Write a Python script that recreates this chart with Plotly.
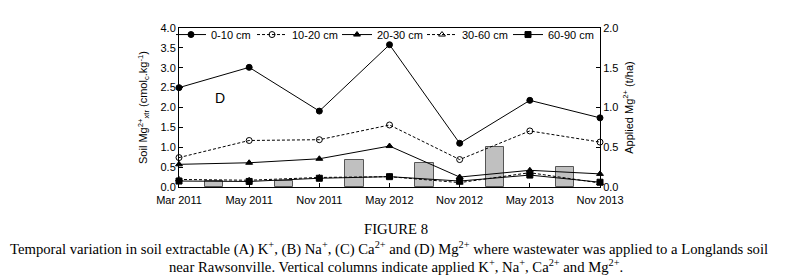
import plotly.graph_objects as go

categories = ["Mar 2011", "May 2011", "Nov 2011", "May 2012", "Nov 2012", "May 2013", "Nov 2013"]
d0_10 = [2.50, 3.01, 1.91, 3.58, 1.10, 2.18, 1.74]
d10_20 = [0.74, 1.17, 1.19, 1.56, 0.69, 1.41, 1.13]
d20_30 = [0.57, 0.61, 0.71, 1.03, 0.25, 0.42, 0.33]
d30_60 = [0.19, 0.17, 0.24, 0.26, 0.11, 0.36, 0.10]
d60_90 = [0.15, 0.14, 0.22, 0.26, 0.15, 0.30, 0.12]
applied = [0.08, 0.08, 0.34, 0.30, 0.50, 0.25]

xi = list(range(len(categories)))
xbar = [i + 0.5 for i in range(len(applied))]

# figure geometry (pixels)
W, H = 788, 277
ML, MR, MT, MB = 171, 196, 20, 98
PW, PH = W - ML - MR, H - MT - MB

fig = go.Figure()
fig.add_trace(go.Bar(x=xbar, y=applied, width=0.26, yaxis="y",
                     marker=dict(color="#c0c0c0", line=dict(color="#555555", width=1)),
                     showlegend=False))

series = [
    ("0-10 cm", d0_10, "circle", "solid"),
    ("10-20 cm", d10_20, "circle-open", "3px,2px"),
    ("20-30 cm", d20_30, "triangle-up", "solid"),
    ("30-60 cm", d30_60, "triangle-up-open", "3px,2px"),
    ("60-90 cm", d60_90, "square", "solid"),
]
legend_text_px = [206, 287, 372, 457, 543]
legend_names = ["legend", "legend2", "legend3", "legend4", "legend5"]
for (name, vals, sym, dash), lg in zip(series, legend_names):
    fig.add_trace(go.Scatter(x=xi, y=vals, name=name, yaxis="y2", mode="lines+markers",
                             line=dict(color="black", width=1, dash=dash),
                             marker=dict(symbol=sym, size=6, color="black",
                                         line=dict(color="black", width=1)),
                             cliponaxis=False, legend=lg))

tickfont = dict(family="Liberation Sans, Arial", size=11, color="black")
legfont = dict(family="Liberation Sans, Arial", size=11, color="black")
layout_legends = {}
for lg, tx in zip(legend_names, legend_text_px):
    layout_legends[lg] = dict(orientation="h", x=(tx - 43 - ML) / PW, y=1.05,
                              xanchor="left", yanchor="top", font=legfont,
                              bgcolor="rgba(0,0,0,0)", itemwidth=30, borderwidth=0)

fig.update_layout(
    width=W, height=H,
    margin=dict(l=ML, r=MR, t=MT, b=MB, autoexpand=False),
    paper_bgcolor="white", plot_bgcolor="white",
    showlegend=True,
    xaxis=dict(range=[0, 6], tickvals=xi, ticktext=categories, showgrid=False, zeroline=False,
               showline=True, linecolor="black", linewidth=1, mirror=True,
               ticks="inside", ticklen=4, tickcolor="black", tickfont=tickfont,
               ticklabelstandoff=3),
    yaxis=dict(range=[0, 2.0], dtick=0.5, tickformat=".1f", side="right", showgrid=False,
               zeroline=False, showline=True, linecolor="black", linewidth=1,
               ticks="inside", ticklen=4, tickcolor="black", tickfont=tickfont,
               title=dict(text="Applied Mg<sup>2+</sup> (t/ha)", font=tickfont, standoff=7)),
    yaxis2=dict(range=[0, 4.0], dtick=0.5, tickformat=".1f", side="left", overlaying="y",
                showgrid=False, zeroline=False, showline=True, linecolor="black", linewidth=1,
                ticks="inside", ticklen=4, tickcolor="black", tickfont=tickfont,
                title=dict(text="Soil Mg<sup>2+</sup><sub>xtr</sub> (cmol<sub>c</sub>.kg<sup>-1</sup>)",
                           font=tickfont, standoff=10)),
    bargap=0,
    **layout_legends,
)

fig.add_annotation(text="D", x=0.08, y=0.56, xref="paper", yref="paper", showarrow=False,
                   font=dict(family="Liberation Sans, Arial", size=14, color="black"))

capfont = dict(family="Liberation Serif, Times New Roman", size=14.7, color="black")
# (text, x pixel, anchor, y pixel)
captions = [
    ("FIGURE 8", 388, "center", 221),
    ("Temporal variation in soil extractable (A) K<sup>+</sup>, (B) Na<sup>+</sup>, (C) Ca<sup>2+</sup> and (D) Mg<sup>2+</sup> where wastewater was applied to a Longlands soil", 1, "left", 240),
    ("near Rawsonville. Vertical columns indicate applied K<sup>+</sup>, Na<sup>+</sup>, Ca<sup>2+</sup> and Mg<sup>2+</sup>.", 388, "center", 258),
]
for txt, xpix, anchor, ypix in captions:
    fig.add_annotation(text=txt, x=(xpix - ML) / PW, xref="paper", xanchor=anchor,
                       y=(H - MB - ypix) / PH, yref="paper", yanchor="middle",
                       showarrow=False, font=capfont, borderpad=0)

fig.write_html("out.html")
